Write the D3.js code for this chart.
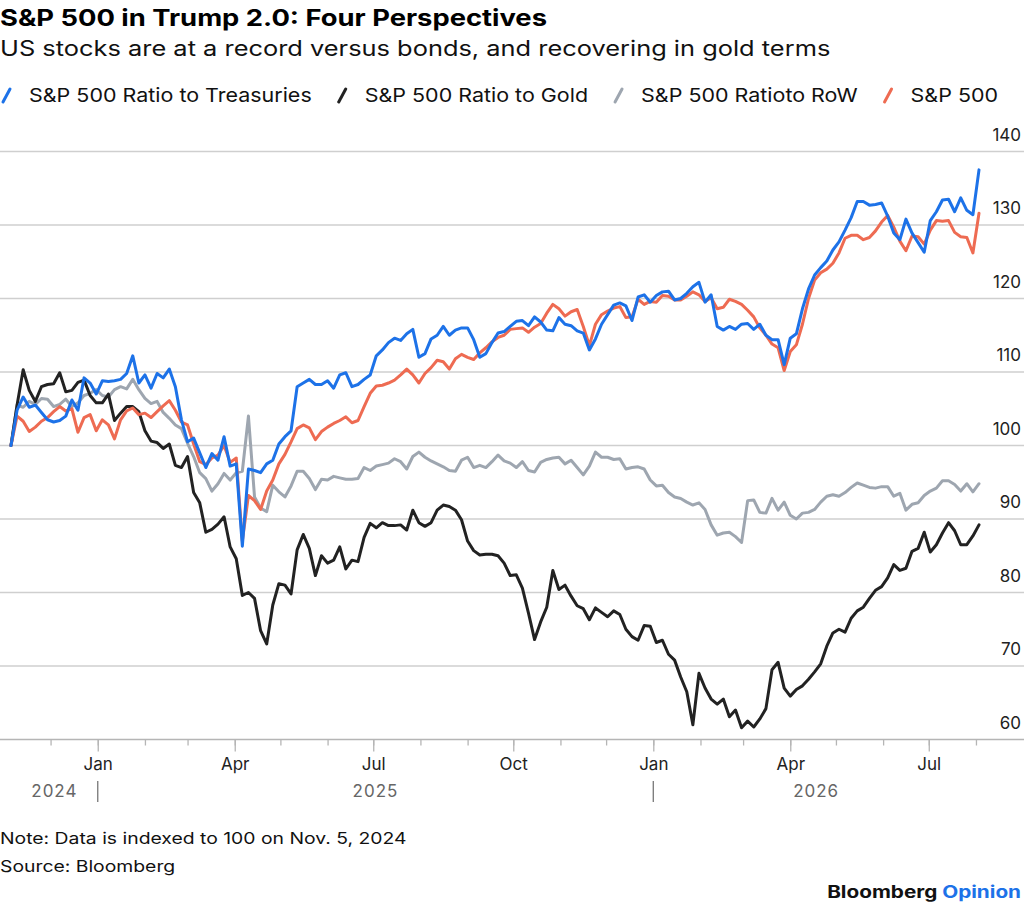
<!DOCTYPE html>
<html>
<head>
<meta charset="utf-8">
<script src="https://cdn.jsdelivr.net/npm/d3@7"></script>
<style>
  html, body { margin: 0; padding: 0; background: #fff; }
  svg { display: block; font-family: Inter, "Liberation Sans", sans-serif; }
</style>
</head>
<body>
<svg id="chart" width="1024" height="909"></svg>
<script>
// series sampled every 4 calendar days from Nov 5, 2024 (indexed to 100)
var startDate = new Date(2024, 10, 5);
var endDate = new Date(2026, 7, 3);
var stepDays = 4;

var treasuries = [100,104.8,106.6,105.2,105.5,104.5,103.5,103.2,103.4,104,106.2,104.8,109.2,108.5,107,108.8,108.7,108.8,109,109.8,
  112.2,108.5,109.6,107.8,109.8,109.2,110.4,108,103.5,100.5,101,99,97,98.9,98,101.2,97.2,97.5,86.3,96.8,
  96.6,96.3,97.5,98,100.2,101.2,102,108,108.5,109,108.3,108.3,108.8,107.8,109.6,109.9,108,108.3,109,109.6,
  112.2,113,114,114.6,114.3,115.2,115.8,112,112.5,114.5,115,116.2,115,115.7,116,116,114.4,112,112.5,114,
  115.3,115.5,116.2,116.9,117,116.3,117.5,116.8,115.7,115.6,117.4,116.5,116.3,115.6,115.3,113,114.5,116.5,117.8,119.1,
  119.4,119,117,120.2,120.5,119.5,120.4,120.9,121,119.8,120,120.7,121.6,122.2,119.5,120.5,116.2,115.7,116.2,115.8,
  116.5,116.6,115.8,116.5,115,114.4,114.4,111,114.6,115.2,118.6,121.3,123.2,124.2,125.1,126.6,127.7,129.3,131,133.2,
  133.2,132.7,132.8,133,131.2,128.9,128,130.8,128.9,127.6,126.3,130.6,131.8,133.4,133.5,131.8,133.7,132,131.4,137.5];

var gold = [100,105.5,110.3,107.5,106,108,108.3,108.4,109.9,107.3,107.5,108.6,108.9,106.8,105.8,105.8,107,103.4,104.4,105.3,
  105.3,104.6,102,100.6,100.4,99.6,100.2,97.3,97,98.5,93.6,92.2,88.2,88.6,89.3,90.3,86.2,84.6,79.6,80,
  79.2,74.8,73,78.3,81.2,81,79.8,85.8,87.9,86,82.3,85,84,84.4,86.2,83.2,84.4,84.2,87.5,89.4,
  88.8,89.5,89.1,89.1,89.2,88.5,91.2,89.5,89,89.5,91.2,91.9,91.7,91.2,89.9,87,85.7,85.1,85.2,85.2,
  85,84,82.3,82.4,80.6,77.2,73.6,76,78,83,80.4,81,79.5,78.2,77.8,76.3,77.9,77.3,76.7,77.5,
  77,75,74,73.5,75.5,75.4,73.2,73.5,71.6,70.8,68.5,66.5,62,69,67,65.5,64.8,65.5,63.1,64,
  61.6,62.5,61.7,62.8,64.2,69.5,70.5,67,65.9,66.8,67.3,68.2,69.2,70.3,72.7,74.5,75,74.6,76.5,77.5,
  78,79.2,80.3,80.8,82,83.8,83,83.3,85.6,86,88.2,85.5,86.5,88.1,89.5,88.4,86.5,86.5,87.7,89.2];

var restOfWorld = [100,105.5,105.2,106,105.6,106.4,106.3,105.3,105.6,106.3,105.3,105.8,106.8,107.1,107.6,106.8,106.6,107.6,108,107.7,
  109,107.6,106.4,105.7,106,104.5,103.7,102.8,102.3,100.3,98.5,96.3,95.5,93.8,94.8,96.2,95.3,96.3,96.5,104,
  93,91.5,91,94.6,93.7,93,94.5,96.5,96.5,95.5,94,95.4,95.3,95.8,95.6,95.4,95.4,95.5,97,96.6,
  97.2,97.4,97.6,98.2,97.8,96.8,98.5,99.1,98.4,97.9,97.5,97.1,96.6,96.5,98,98.4,97,97.3,97,97.8,
  98.7,97.9,97.6,97,97.8,96.6,96.4,97.7,98.1,98.3,98.4,97.5,98,97,96,97.2,99.1,98.4,98.4,98.1,
  98.2,96.8,97,97.1,96.8,95.3,94.5,94.6,93.6,93,92.8,92.3,91.9,92.2,91.3,89.2,87.8,88.1,88.2,87.6,
  86.8,92.5,92.6,90.9,90.8,92.8,91.2,92.3,90.5,90,90.8,90.9,91.3,92.3,93.1,93.3,93.1,93.6,94.3,94.9,
  94.6,94.3,94.2,94.4,94.4,93.1,93.5,91.2,92,92.2,93.2,93.8,94.2,95.2,95.2,94.7,93.8,94.8,93.7,94.8];

var spx = [100,104,103.3,101.9,102.5,103.3,103.8,104.6,105.3,104.7,105,101.8,103.8,104.2,102,103.5,102.8,100.9,103.5,104.7,
  105.1,104.2,104.4,103.8,104.6,105.4,106.1,104.8,103.2,102.8,100.2,97.8,97.4,98.3,98.7,100,97.7,98.3,87,93.2,
  92.5,91.3,93.8,95.3,97.5,98.8,100.5,102.3,102.8,102.4,100.8,101.9,102.5,103,103.4,103.9,103.1,103.4,105.3,107.1,
  108.1,108.2,108.5,108.9,109.6,110.4,109.6,108.5,109.8,110.6,111.6,111.4,110.4,111.8,112.4,112,111.7,112.6,113.3,114.1,
  114.7,115,115.8,115.9,116,115.4,116.1,116.6,118,119.2,118.6,117.6,118.2,118.5,116.2,113.6,116.5,117.8,118.3,118.7,
  118.9,117.4,117.5,119.9,119.2,119.6,119.5,120.4,120.3,119.8,119.8,120.3,120.9,120.5,119.6,120.1,118.6,118.8,119.9,119.6,
  119.2,118.4,117.5,116,115,113.8,113.3,110.2,112.8,113.7,116.5,120,122.5,123.5,124,124.8,126.2,128.2,128.6,128.6,
  128,128.3,129.2,130.4,131.3,129.7,127.8,126.5,128.5,128.4,127.4,129.3,130.6,130.5,130.6,129,128.4,128.3,126.2,131.6];

var seriesNames = ["S&P 500 Ratio to Treasuries", "S&P 500 Ratio to Gold", "S&P 500 Ratioto RoW", "S&P 500"];
var seriesColors = ["#1d72e8", "#222222", "#9ea6b0", "#ee6b52"];
var yTicks = [60, 70, 80, 90, 100, 110, 120, 130, 140];
var years = [2024, 2025, 2026];

var svg = d3.select("#chart"),
    width = +svg.attr("width");

var dates = treasuries.map(function (d, i) { return d3.timeDay.offset(startDate, i * stepDays); });

var x = d3.scaleTime().domain([startDate, endDate]).range([11, 979]);
var y = d3.scaleLinear().domain([60, 140]).range([739.5, 151.5]);

// the source artwork is set in a wide grotesque, so header/footer text is stretched a little
function wideText(parent, tx, ty, sx) {
  return parent.append("text")
      .attr("transform", "translate(" + tx + "," + ty + ") scale(" + sx + ",1)");
}

// title block
wideText(svg, 0, 26, 1.19)
    .style("font-size", "23px").style("font-weight", 700).attr("fill", "#000")
    .text("S&P 500 in Trump 2.0: Four Perspectives");
wideText(svg, 0, 56, 1.21)
    .style("font-size", "21px").attr("fill", "#111")
    .text("US stocks are at a record versus bonds, and recovering in gold terms");

// legend
var legend = svg.append("g").attr("transform", "translate(0,95)");
var lx = 0;
seriesNames.forEach(function (name, i) {
  legend.append("line").attr("x1", lx + 3).attr("y1", 7).attr("x2", lx + 10).attr("y2", -6)
      .attr("stroke", seriesColors[i]).attr("stroke-width", 3).attr("stroke-linecap", "round");
  var t = wideText(legend, lx + 29, 7, 1.13)
      .style("font-size", "19px").attr("fill", "#111").text(name);
  lx += 29 + t.node().getComputedTextLength() * 1.13 + 24;
});

// gridlines + right labels
var grid = svg.append("g");
grid.selectAll("line").data(yTicks).enter().append("line")
    .attr("x1", 0).attr("x2", width)
    .attr("y1", function (d) { return y(d); }).attr("y2", function (d) { return y(d); })
    .attr("stroke", function (d) { return d === 60 ? "#b5b5b5" : "#cfcfcf"; })
    .attr("stroke-width", 1.5);
grid.selectAll("text").data(yTicks).enter().append("text")
    .attr("x", 1021).attr("y", function (d) { return y(d) - 11; })
    .attr("text-anchor", "end").style("font-size", "17px").attr("fill", "#222")
    .text(function (d) { return d; });

// x axis: monthly minor ticks, quarterly labelled ticks
var axisG = svg.append("g").attr("transform", "translate(0," + y(60) + ")");
axisG.call(d3.axisBottom(x).ticks(d3.timeMonth.every(1)).tickSize(6).tickFormat(""));
axisG.append("g").call(d3.axisBottom(x).ticks(d3.timeMonth.every(3)).tickSize(12).tickPadding(6)
    .tickFormat(d3.timeFormat("%b")));
axisG.selectAll(".domain").remove();
axisG.selectAll("line").attr("stroke", "#b5b5b5").attr("stroke-width", 1.3);
axisG.selectAll("text").style("font-size", "17px").style("font-family", "Inter, sans-serif").attr("fill", "#222");

// year row
var yearG = svg.append("g");
years.forEach(function (yr) {
  var a = d3.max([startDate, new Date(yr, 0, 1)]),
      b = d3.min([endDate, new Date(yr + 1, 0, 1)]);
  yearG.append("text").attr("x", (x(a) + x(b)) / 2).attr("y", 797)
      .attr("text-anchor", "middle").style("font-size", "17px").style("letter-spacing", "1px")
      .attr("fill", "#666").text(yr);
  if (new Date(yr, 0, 1) > startDate) {
    yearG.append("line").attr("x1", x(a)).attr("x2", x(a)).attr("y1", 781).attr("y2", 802)
        .attr("stroke", "#777").attr("stroke-width", 1.3);
  }
});

// lines
var line = d3.line()
    .x(function (d, i) { return x(dates[i]); })
    .y(function (d) { return y(d); });
var order = [[restOfWorld, 2], [gold, 1], [spx, 3], [treasuries, 0]];
order.forEach(function (s) {
  svg.append("path").datum(s[0])
      .attr("d", line).attr("fill", "none")
      .attr("stroke", seriesColors[s[1]]).attr("stroke-width", 3)
      .attr("stroke-linejoin", "round").attr("stroke-linecap", "round");
});

// footer
wideText(svg, 0, 844, 1.21).style("font-size", "16px").attr("fill", "#111")
    .text("Note: Data is indexed to 100 on Nov. 5, 2024");
wideText(svg, 0, 872, 1.21).style("font-size", "16px").attr("fill", "#111")
    .text("Source: Bloomberg");
var brand = wideText(svg, 1021, 898, 1.22).attr("text-anchor", "end")
    .style("font-size", "17px").style("font-weight", 700);
brand.append("tspan").attr("fill", "#111").text("Bloomberg ");
brand.append("tspan").attr("fill", "#1d72e8").text("Opinion");
</script>
</body>
</html>
